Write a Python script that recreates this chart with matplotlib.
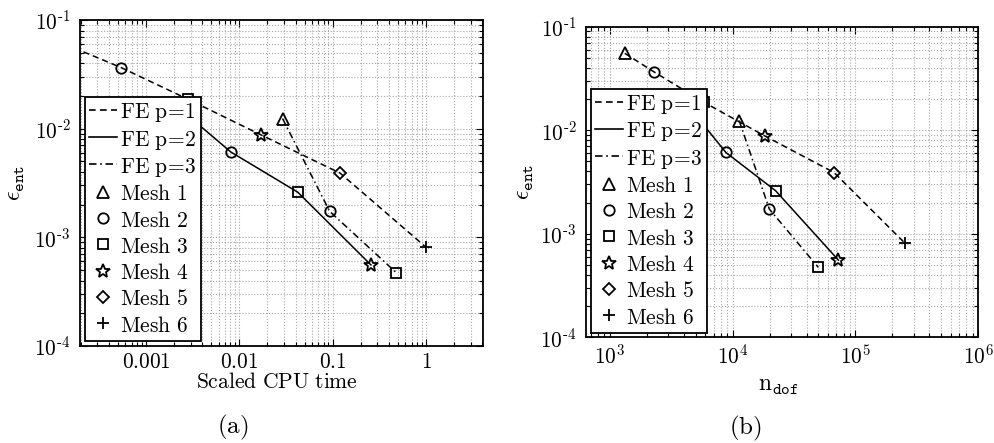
import matplotlib
matplotlib.use("Agg")
import matplotlib.pyplot as plt
from matplotlib.lines import Line2D
from matplotlib.ticker import LogLocator, FixedLocator, FixedFormatter, NullFormatter

plt.rcParams['mathtext.fontset'] = 'cm'
plt.rcParams['font.family'] = ['DejaVu Serif']

# ---- data ----
mesh_markers = ['^', 'o', 's', '*', 'D', '+']
mesh_labels = ['Mesh 1', 'Mesh 2', 'Mesh 3', 'Mesh 4', 'Mesh 5', 'Mesh 6']

# FE p=1 (meshes 1-6)
p1_mesh = [0, 1, 2, 3, 4, 5]
p1_cpu = [0.00017, 0.00054, 0.0028, 0.0169, 0.12, 1.0]
p1_ndof = [1325, 2300, 5800, 18300, 67000, 253000]
p1_err = [0.0553, 0.0365, 0.0187, 0.0088, 0.0039, 0.00081]

# FE p=2 (meshes 1-4)
p2_mesh = [0, 1, 2, 3]
p2_cpu = [0.0026, 0.0081, 0.0423, 0.257]
p2_ndof = [5000, 8810, 22400, 72600]
p2_err = [0.014, 0.0061, 0.0026, 0.000557]

# FE p=3 (meshes 1-3)
p3_mesh = [0, 1, 2]
p3_cpu = [0.029, 0.093, 0.48]
p3_ndof = [11300, 19900, 49900]
p3_err = [0.0124, 0.00173, 0.000473]

series_labels = ['FE p=1', 'FE p=2', 'FE p=3']
series_styles = [(0, (4, 2.6)), '-', (0, (4.5, 2.2, 1, 2.2))]

y_ticks = [1e-4, 1e-3, 1e-2, 1e-1]
y_ticklabels = [r'$10^{\text{-}4}$', r'$10^{\text{-}3}$', r'$10^{\text{-}2}$', r'$10^{\text{-}1}$']
cpu_ticks = [1e-3, 1e-2, 1e-1, 1]
cpu_ticklabels = [r'$0.001$', r'$0.01$', r'$0.1$', r'$1$']
ndof_ticks = [1e3, 1e4, 1e5, 1e6]
ndof_ticklabels = [r'$10^{3}$', r'$10^{4}$', r'$10^{5}$', r'$10^{6}$']

MSIZE = {'^': 8, 'o': 7.5, 's': 6.5, '*': 10, 'D': 6.5, '+': 9}


def mt(s):
    s = s.replace(' ', r'\ ').replace('=', r'\!=\!')
    return r'$\mathrm{' + s + '}$'


fig = plt.figure(figsize=(9.94, 4.43), dpi=100)
ax1 = fig.add_axes([80/994, (443-346)/443, 403/994, 326/443])
ax2 = fig.add_axes([586/994, (443-337.3)/443, 392.3/994, 310.6/443])


def draw(ax, xs_list):
    meshes = [p1_mesh, p2_mesh, p3_mesh]
    errs = [p1_err, p2_err, p3_err]
    for xs, ys, ms, ls in zip(xs_list, errs, meshes, series_styles):
        ax.plot(xs, ys, linestyle=ls, color='black', lw=1.1, zorder=3)
        for x, y, m in zip(xs, ys, ms):
            mk = mesh_markers[m]
            ax.plot([x], [y], linestyle='none', marker=mk, markersize=MSIZE[mk],
                    markerfacecolor='none', markeredgecolor='black',
                    markeredgewidth=1.3, zorder=4)
    ax.set_xscale('log')
    ax.set_yscale('log')
    ax.set_ylim(1e-4, 1e-1)
    ax.grid(True, which='both', linestyle=':', color='#a8a8a8', lw=0.8)
    ax.set_axisbelow(True)
    for sp in ax.spines.values():
        sp.set_linewidth(1.3)
    ax.tick_params(which='both', direction='in', top=True, right=True, width=0.8)
    ax.tick_params(which='major', length=5, labelsize=15.3)
    ax.tick_params(axis='y', which='major', pad=7)
    ax.tick_params(which='minor', length=3)
    ax.yaxis.set_major_locator(FixedLocator(y_ticks))
    ax.yaxis.set_major_formatter(FixedFormatter(y_ticklabels))
    ax.yaxis.set_minor_locator(LogLocator(base=10, subs=range(2, 10)))
    ax.yaxis.set_minor_formatter(NullFormatter())
    ax.xaxis.set_minor_locator(LogLocator(base=10, subs=range(2, 10), numticks=20))
    ax.xaxis.set_minor_formatter(NullFormatter())
    ax.set_ylabel(r'$\epsilon_{\mathtt{ent}}$', fontsize=17)

    handles = [Line2D([], [], color='black', ls=ls, lw=1.2) for ls in series_styles]
    handles += [Line2D([], [], ls='none', marker=m, markersize=MSIZE[m],
                       markerfacecolor='none', markeredgecolor='black', markeredgewidth=1.3)
                for m in mesh_markers]
    labels = [mt(s) for s in series_labels] + [mt(s) for s in mesh_labels]
    return handles, labels


def legend(ax, h, l, anchor):
    leg = ax.legend(h, l, loc='lower left', bbox_to_anchor=anchor, fontsize=15.5,
                    frameon=True, fancybox=False, framealpha=1, edgecolor='black',
                    handlelength=1.3, handleheight=1.0, handletextpad=0.15,
                    labelspacing=0.2, borderpad=0.2, borderaxespad=0)
    leg.get_frame().set_linewidth(1.3)
    return leg


h, l = draw(ax1, [p1_cpu, p2_cpu, p3_cpu])
ax1.set_xlim(1.96e-4, 4.08)
ax1.xaxis.set_major_locator(FixedLocator(cpu_ticks))
ax1.xaxis.set_major_formatter(FixedFormatter(cpu_ticklabels))
ax1.tick_params(axis='x', which='major', pad=5)
ax1.set_xlabel(mt('Scaled CPU time'), fontsize=15.5)
ax1.xaxis.set_label_coords(0.489, -0.110)
ax1.xaxis.label.set_va('center')
ax1.yaxis.set_label_coords(-0.161, 0.5)
ax1.yaxis.label.set_va('center')
legend(ax1, h, l, (0.012, 0.015))

h, l = draw(ax2, [p1_ndof, p2_ndof, p3_ndof])
ax2.set_xlim(640, 1e6)
ax2.xaxis.set_major_locator(FixedLocator(ndof_ticks))
ax2.xaxis.set_major_formatter(FixedFormatter(ndof_ticklabels))
ax2.tick_params(axis='x', which='major', pad=5)
ax2.set_xlabel(r'$\mathrm{n}_{\mathtt{dof}}$', fontsize=17)
ax2.xaxis.set_label_coords(0.49, -0.154)
ax2.xaxis.label.set_va('center')
ax2.yaxis.set_label_coords(-0.156, 0.5)
ax2.yaxis.label.set_va('center')
legend(ax2, h, l, (0.012, 0.014))

fig.text(233/994, 1 - 427/443, r'$\mathrm{(a)}$', ha='center', va='center', fontsize=18)
fig.text(745/994, 1 - 428/443, r'$\mathrm{(b)}$', ha='center', va='center', fontsize=18)

fig.savefig('out.png', dpi=100)
